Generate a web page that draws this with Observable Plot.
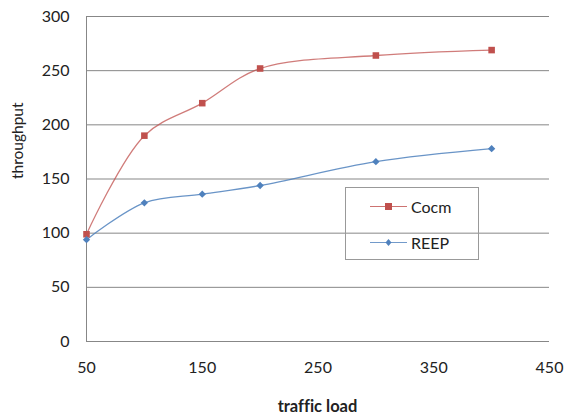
<!DOCTYPE html>
<html><head><meta charset="utf-8">
<script src="https://cdn.jsdelivr.net/npm/d3@7"></script>
<script src="https://cdn.jsdelivr.net/npm/@observablehq/plot@0.6"></script>
<style>
html,body{margin:0;padding:0;background:#fff;}
#wrap{position:relative;width:565px;height:417px;font-family:Lato,"Open Sans",sans-serif;font-variant-ligatures:none;}
#legend{position:absolute;left:345px;top:187px;width:134px;height:73px;border:1px solid #999;box-sizing:border-box;}
.item{position:absolute;left:24px;display:flex;align-items:center;font-size:16px;color:#222;}
.item svg{margin-right:4px;}
#xlabel{position:absolute;left:86px;width:463px;top:396px;text-align:center;font-weight:bold;font-size:16.5px;color:#222;font-variant-ligatures:none;}
</style></head>
<body><div id="wrap"></div>
<script>
const loads = [50, 100, 150, 200, 300, 400];
const cocm = [99, 190, 220, 252, 264, 269];
const reep = [94, 128, 136, 144, 166, 178];
const seriesNames = ["Cocm", "REEP"];
const colors = ["#C0504D", "#4F81BD"];
const xTicks = [50, 150, 250, 350, 450];
const yTicks = [0, 50, 100, 150, 200, 250, 300];

const data = [
  ...loads.map((x, i) => ({x, y: cocm[i], s: "Cocm"})),
  ...loads.map((x, i) => ({x, y: reep[i], s: "REEP"}))
];
const cData = data.filter(d => d.s === "Cocm");
const rData = data.filter(d => d.s === "REEP");

const chart = Plot.plot({
  width: 565, height: 417,
  marginLeft: 86, marginRight: 16, marginTop: 16, marginBottom: 76,
  style: {fontFamily: "Lato, 'Open Sans', sans-serif", fontSize: "16px", color: "#222", background: "#fff"},
  x: {domain: [50, 450]},
  y: {domain: [0, 300]},
  marks: [
    Plot.gridY(yTicks, {stroke: "#878787", strokeOpacity: 1}),
    Plot.ruleX([50], {stroke: "#878787"}),
    Plot.ruleY([0], {stroke: "#878787"}),
    Plot.axisY(yTicks, {tickSize: 0, tickPadding: 17, fontSize: 16, label: null}),
    Plot.axisX(xTicks, {tickSize: 0, tickPadding: 20, fontSize: 16, label: null}),
    Plot.text(["throughput"], {frameAnchor: "left", dx: -68, rotate: -90, fontSize: 15.5, fill: "#222"}),
    Plot.line(cData, {x: "x", y: "y", stroke: colors[0], strokeWidth: 1.3, strokeOpacity: 0.75, curve: "catmull-rom"}),
    Plot.line(rData, {x: "x", y: "y", stroke: colors[1], strokeWidth: 1.3, strokeOpacity: 0.85, curve: "catmull-rom"}),
    Plot.dot(cData, {x: "x", y: "y", symbol: "square", r: 3.7, fill: colors[0], stroke: "none"}),
    Plot.dot(rData, {x: "x", y: "y", symbol: "diamond2", r: 3.3, fill: colors[1], stroke: "none"})
  ]
});
const wrap = document.getElementById("wrap");
wrap.appendChild(chart);

const legend = document.createElement("div");
legend.id = "legend";
const markers = [
  '<rect x="15" y="3" width="7" height="7" fill="' + colors[0] + '"/>',
  '<path d="M18.5 3 L21.5 6.5 L18.5 10 L15.5 6.5Z" fill="' + colors[1] + '"/>'
];
seriesNames.forEach((name, i) => {
  const it = document.createElement("div");
  it.className = "item";
  it.style.top = (i === 0 ? 9 : 45) + "px";
  it.innerHTML = '<svg width="37" height="13"><line x1="0" x2="37" y1="6.5" y2="6.5" stroke="' + colors[i] + '" stroke-width="1.2" stroke-opacity="0.8"/>' + markers[i] + '</svg><span>' + name + '</span>';
  legend.appendChild(it);
});
wrap.appendChild(legend);

const xl = document.createElement("div");
xl.id = "xlabel";
xl.textContent = "traffic load";
wrap.appendChild(xl);
</script></body></html>
